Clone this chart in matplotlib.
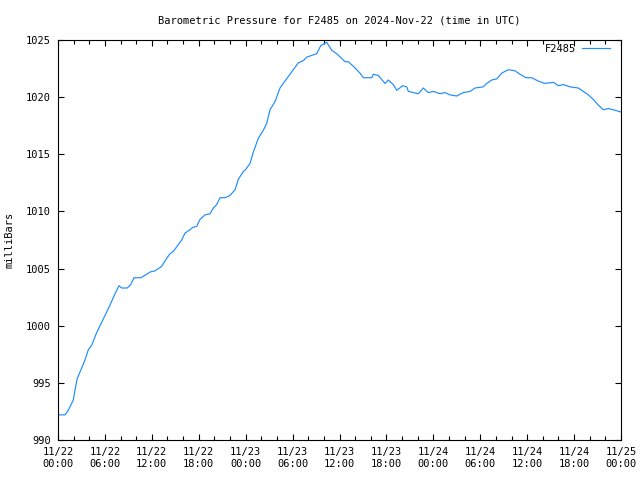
import matplotlib
matplotlib.use("Agg")
import matplotlib.pyplot as plt
import matplotlib.dates as mdates
from datetime import datetime, timedelta

title = "Barometric Pressure for F2485 on 2024-Nov-22 (time in UTC)"
series_name = "F2485"
ylabel = "milliBars"

hours = [0.0, 0.9, 1.32, 1.96, 2.26, 2.47, 3.03, 3.45, 3.88, 4.31, 4.95, 5.59, 6.01, 6.65,
         7.29, 7.80, 8.15, 8.86, 9.30, 9.72, 10.14, 10.58, 11.34, 11.77, 12.41, 13.05, 13.26,
         13.9, 14.32, 14.75, 15.39, 15.82, 16.24, 16.88, 17.23, 17.74, 18.16, 18.80, 19.44,
         19.86, 20.30, 20.72, 21.36, 22.0, 22.64, 23.06, 23.70, 23.92, 24.56, 24.98, 25.62,
         26.26, 26.69, 27.11, 27.75, 28.39, 28.81, 29.45, 30.09, 30.73, 31.37, 31.81, 32.65,
         33.09, 33.60, 34.37, 35.0, 35.64, 36.71, 37.13, 37.77, 38.62, 39.05, 40.12, 40.33,
         40.96, 41.82, 42.24, 42.88, 43.32, 44.08, 44.60, 44.80, 46.08, 46.72, 47.36, 48.0,
         48.86, 49.49, 50.13, 50.99, 51.84, 52.69, 53.33, 54.39, 54.83, 55.47, 56.11, 56.75,
         57.59, 58.45, 59.09, 59.85, 60.58, 61.43, 62.28, 63.35, 63.99, 64.63, 65.48, 66.54,
         67.18, 67.82, 68.46, 69.10, 69.74, 70.38, 71.02, 72.0]
pressure = [992.2, 992.2, 992.6, 993.5, 994.7, 995.4, 996.3, 997.0, 997.9, 998.3, 999.4, 1000.3,
            1000.9, 1001.8, 1002.8, 1003.5, 1003.3, 1003.3, 1003.6, 1004.2, 1004.2, 1004.2,
            1004.5, 1004.7, 1004.8, 1005.1, 1005.2, 1005.9, 1006.3, 1006.5, 1007.1, 1007.5,
            1008.1, 1008.4, 1008.6, 1008.7, 1009.3, 1009.7, 1009.8, 1010.3, 1010.6, 1011.2,
            1011.2, 1011.4, 1011.9, 1012.8, 1013.5, 1013.6, 1014.2, 1015.2, 1016.4, 1017.1,
            1017.7, 1018.9, 1019.6, 1020.8, 1021.2, 1021.8, 1022.4, 1023.0, 1023.2, 1023.5,
            1023.7, 1023.8, 1024.5, 1024.8, 1024.1, 1023.8, 1023.1, 1023.1, 1022.7, 1022.1,
            1021.7, 1021.7, 1022.0, 1021.9, 1021.2, 1021.5, 1021.1, 1020.6, 1021.0, 1020.9,
            1020.5, 1020.3, 1020.8, 1020.4, 1020.5, 1020.3, 1020.4, 1020.2, 1020.1, 1020.4,
            1020.5, 1020.8, 1020.9, 1021.2, 1021.5, 1021.6, 1022.1, 1022.4, 1022.3, 1022.0,
            1021.7, 1021.7, 1021.4, 1021.2, 1021.3, 1021.0, 1021.1, 1020.9, 1020.8, 1020.5,
            1020.2, 1019.8, 1019.3, 1018.9, 1019.0, 1018.9, 1018.7]

y_ticks = [990, 995, 1000, 1005, 1010, 1015, 1020, 1025]
start = datetime(2024, 11, 22, 0, 0)
end = datetime(2024, 11, 25, 0, 0)
times = [start + timedelta(hours=h) for h in hours]

plt.rcParams['font.family'] = ['DejaVu Sans Mono']
fig = plt.figure(figsize=(6.4, 4.8), dpi=100)
ax = fig.add_axes([58/640, 40/480, (621-58)/640, 400/480])
ax.plot(times, pressure, color='#1E8CFF', linewidth=0.85, label=series_name)
ax.set_xlim(start, end)
ax.set_ylim(990, 1025)
ax.set_yticks(y_ticks)
ax.xaxis.set_major_locator(mdates.HourLocator(byhour=[0, 6, 12, 18]))
ax.xaxis.set_minor_locator(mdates.HourLocator(byhour=range(0, 24, 2)))
ax.xaxis.set_major_formatter(mdates.DateFormatter('%m/%d\n%H:%M'))
ax.tick_params(which='both', direction='in', top=True, right=True, labelsize=7.5, width=0.8)
ax.tick_params(which='major', length=4.5, pad=5)
ax.tick_params(which='minor', length=3)
for s in ax.spines.values():
    s.set_linewidth(0.8)
ax.set_title(title, fontsize=7.5, pad=12)
ax.set_ylabel(ylabel, fontsize=7.5, labelpad=8)
leg = ax.legend(loc='upper right', bbox_to_anchor=(0.981, 0.99), frameon=False,
                fontsize=7.5, handlelength=2.7, borderaxespad=0, borderpad=0,
                handletextpad=0.6, markerfirst=False)
fig.savefig('out.png', dpi=100)
